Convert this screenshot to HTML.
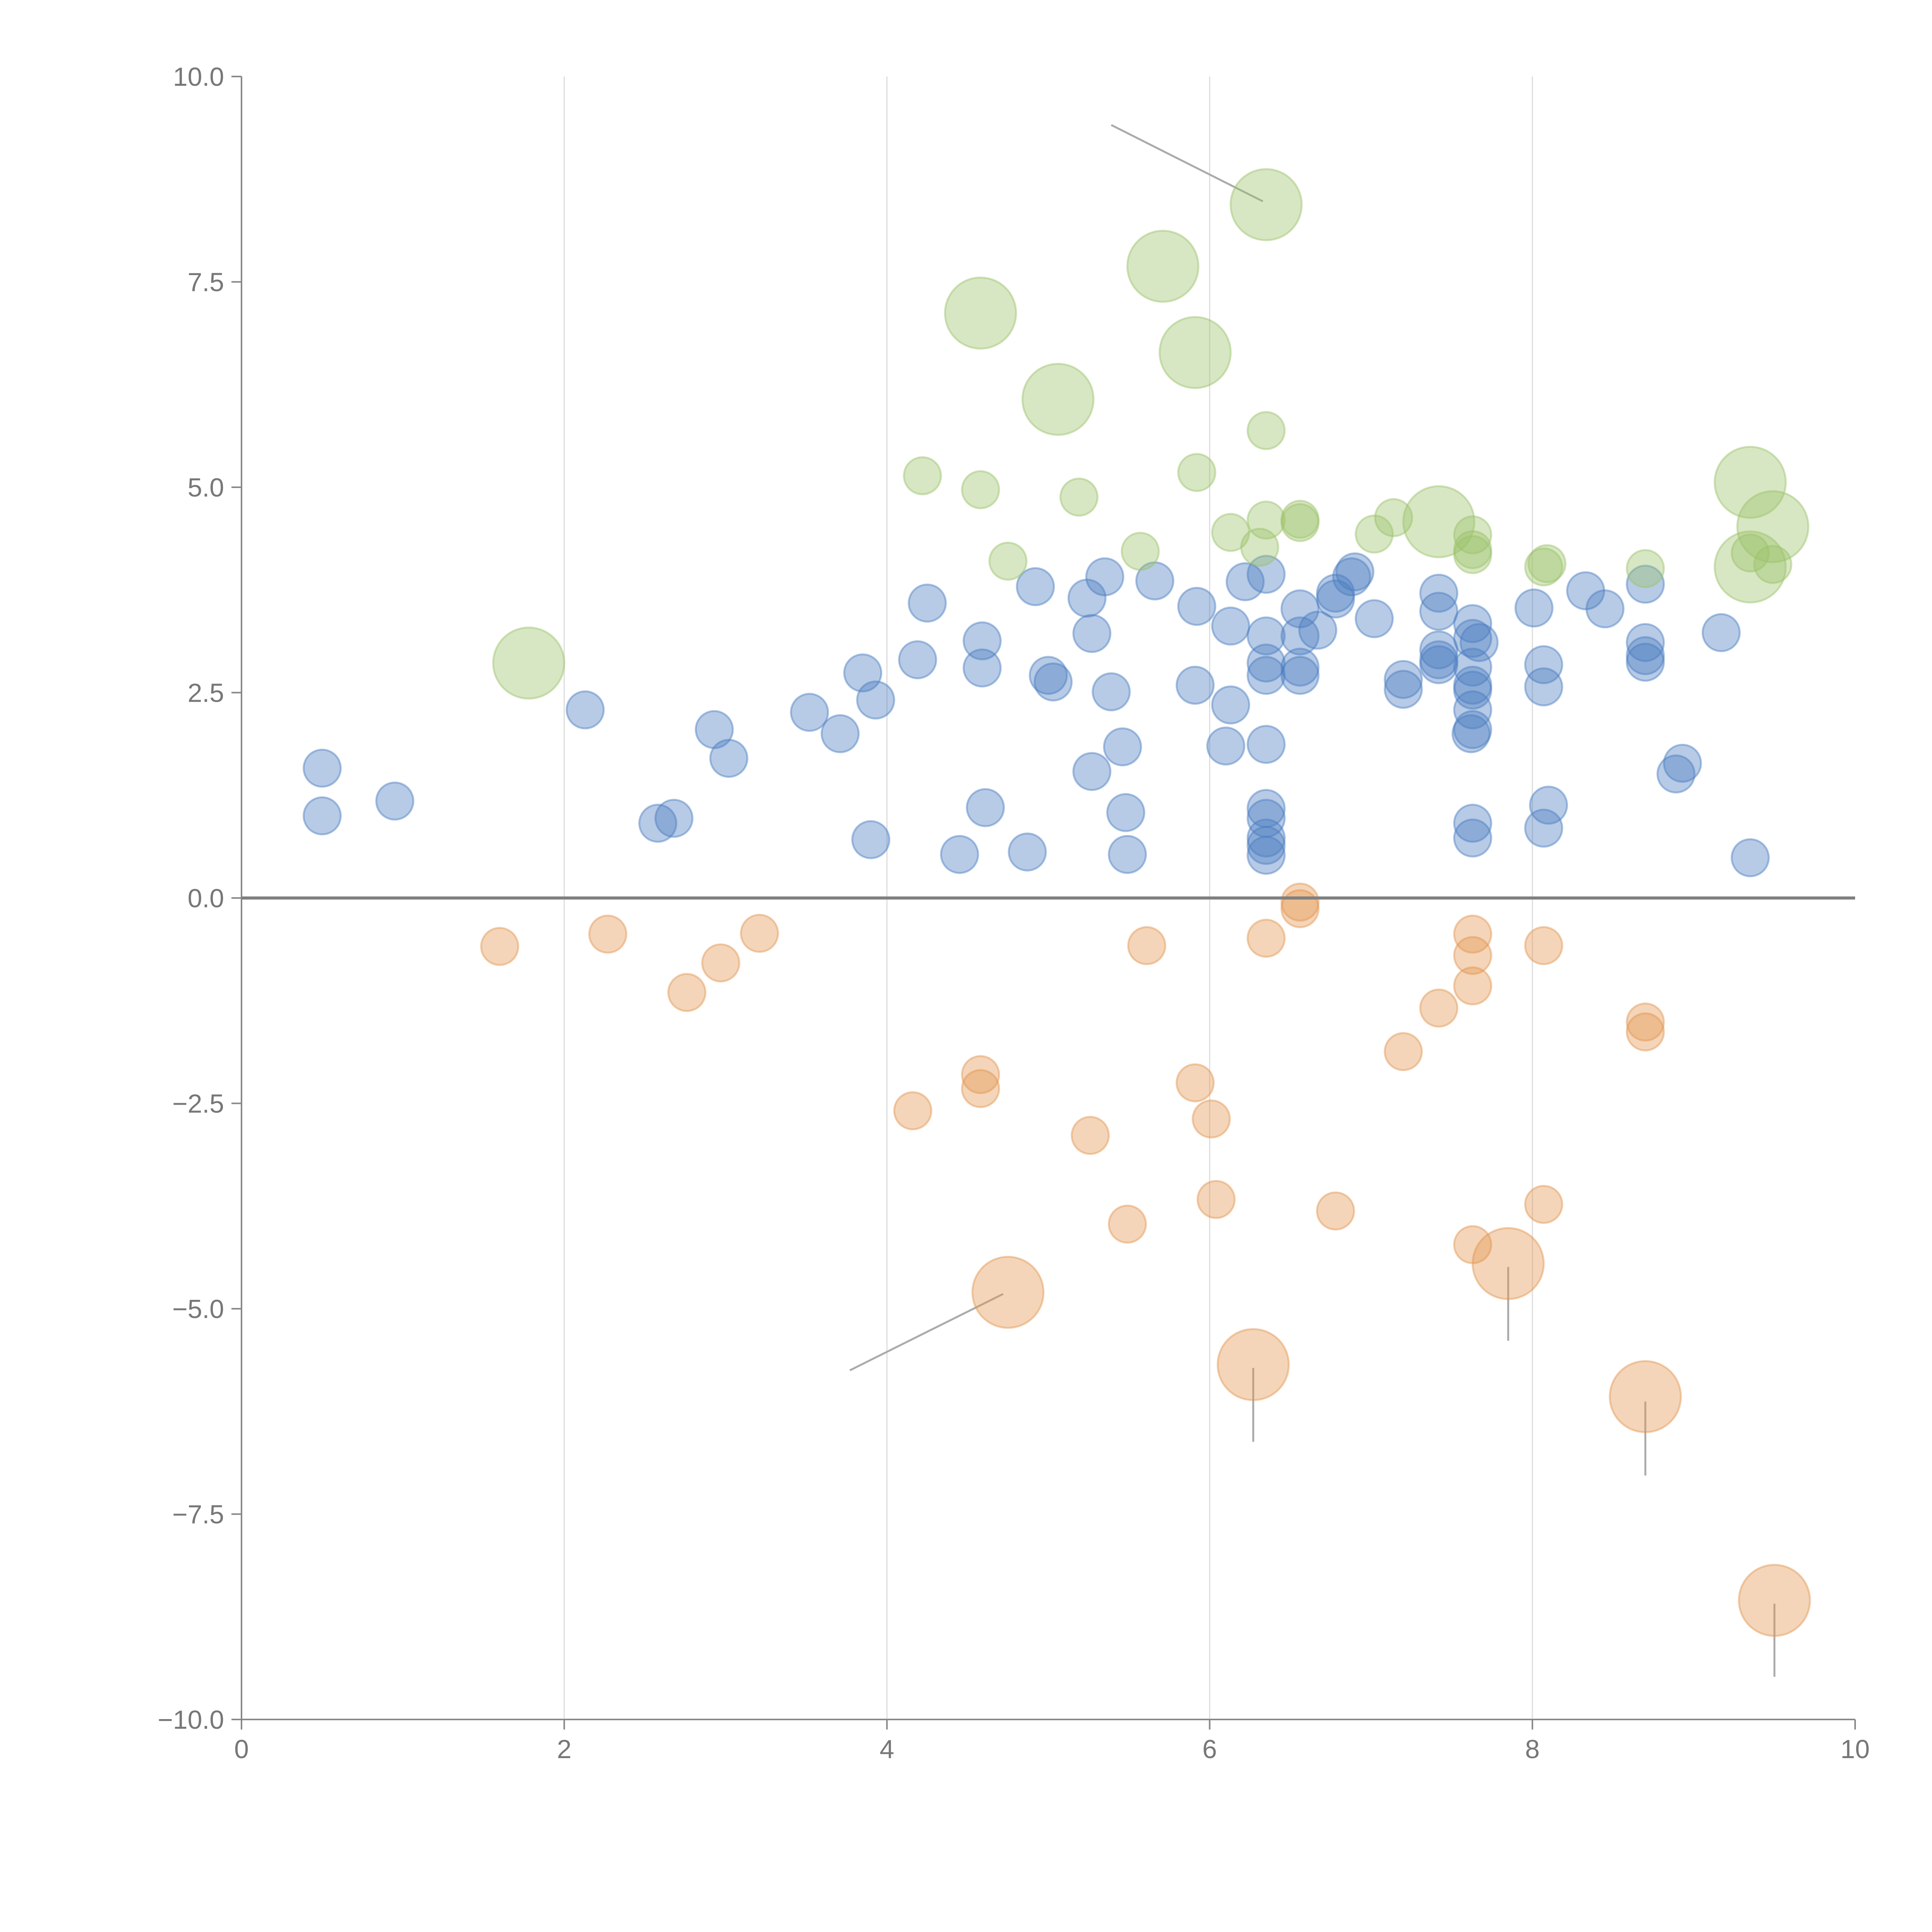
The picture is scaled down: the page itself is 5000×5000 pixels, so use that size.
<!DOCTYPE html>
<html><head><meta charset="utf-8"><style>
html,body{margin:0;padding:0;background:#fff;}
svg{display:block;}
text{font-family:"Liberation Sans",sans-serif;fill:#777;}
</style></head><body>
<svg id="chart" width="5000" height="5000" viewBox="0 0 5000 5000" xmlns="http://www.w3.org/2000/svg">
<g id="grid"></g>
<g id="annot"></g>
<g id="marks"></g>
<g id="axes"></g>
</svg>
<script>
const xTicks=[0,2,4,6,8,10];
const xTickLabels=["0","2","4","6","8","10"];
const yTicks=[10,7.5,5,2.5,0,-2.5,-5,-7.5,-10];
const yTickLabels=["10.0","7.5","5.0","2.5","0.0","\u22122.5","\u22125.0","\u22127.5","\u221210.0"];
const blueX=[0.50,0.50,0.95,2.13,2.58,2.68,2.93,3.02,3.52,3.71,3.85,3.93,3.90,4.19,4.25,4.45,4.59,4.59,4.61,4.87,4.92,5.00,5.03,5.24,5.27,5.27,5.35,5.39,5.46,5.48,5.49,5.66,5.92,5.91,6.13,6.13,6.10,6.22,6.35,6.35,6.35,6.35,6.35,6.35,6.35,6.35,6.35,6.35,6.56,6.56,6.56,6.56,6.67,6.78,6.78,6.88,6.90,7.02,7.20,7.20,7.42,7.42,7.42,7.42,7.42,7.63,7.63,7.67,7.63,7.63,7.63,7.63,7.62,7.63,7.63,7.63,8.01,8.07,8.07,8.10,8.07,8.33,8.45,8.70,8.70,8.70,8.70,8.93,8.89,9.17,9.35];
const blueY=[1.58,1.0,1.18,2.29,0.91,0.97,2.05,1.70,2.26,2.0,2.74,2.41,0.71,2.90,3.59,0.53,3.13,2.80,1.10,0.56,3.79,2.71,2.63,3.65,3.22,1.54,3.91,2.51,1.84,1.04,0.53,3.86,3.55,2.59,3.31,2.35,1.85,3.85,3.94,3.19,2.86,2.71,1.87,1.09,0.97,0.73,0.64,0.52,3.52,3.19,2.81,2.71,3.26,3.71,3.64,3.91,3.97,3.40,2.66,2.54,3.71,3.49,3.02,2.90,2.84,3.34,3.16,3.11,2.81,2.59,2.53,2.29,2.0,2.05,0.91,0.73,3.53,2.84,2.57,1.13,0.85,3.74,3.52,3.82,3.11,2.95,2.87,1.64,1.51,3.23,0.49];
const greenX=[1.78,4.22,4.58,4.75,5.06,4.58,5.71,5.91,6.35,5.19,5.57,5.92,6.13,6.35,6.35,6.31,6.56,6.56,7.02,7.14,7.42,7.63,7.63,7.63,8.07,8.09,8.70,9.35,9.49,9.35,9.35,9.49];
const greenY=[2.86,5.14,4.97,4.10,6.07,7.12,7.69,6.64,8.44,4.88,4.22,5.18,4.45,5.69,4.60,4.27,4.61,4.57,4.43,4.63,4.58,4.42,4.24,4.18,4.03,4.07,4.01,5.06,4.52,4.03,4.20,4.06];
const greenBig=[1,0,0,0,1,1,1,1,1,0,0,0,0,0,0,0,0,0,0,0,1,0,0,0,0,0,0,1,1,1,0,0];
const orangeX=[1.60,2.27,2.76,2.97,3.21,4.16,4.58,4.58,4.75,5.26,5.49,5.61,5.91,6.01,6.04,6.27,6.35,6.56,6.56,6.78,7.20,7.42,7.63,7.63,7.63,7.63,7.85,8.07,8.07,8.70,8.70,8.70,9.50];
const orangeY=[-0.59,-0.44,-1.15,-0.79,-0.43,-2.59,-2.15,-2.32,-4.80,-2.89,-3.97,-0.58,-2.25,-2.69,-3.67,-5.68,-0.49,-0.05,-0.13,-3.81,-1.87,-1.34,-0.44,-0.70,-1.07,-4.22,-4.45,-0.58,-3.73,-1.51,-1.63,-6.07,-8.55];
const orangeBig=[0,0,0,0,0,0,0,0,1,0,0,0,0,0,0,1,0,0,0,0,0,0,0,0,0,0,1,0,0,0,0,1,1];
const annX1=[5.39,3.77,6.27,7.85,8.70,9.50];
const annY1=[9.41,-5.75,-5.72,-4.49,-6.13,-8.59];
const annX2=[6.33,4.72,6.27,7.85,8.70,9.50];
const annY2=[8.48,-4.82,-6.62,-5.39,-7.03,-9.48];

const NS="http://www.w3.org/2000/svg";
const X0=625,X1=4801,YT=198,YB=4450;
const sx=v=>X0+(v-0)/10*(X1-X0);
const sy=v=>YB-(v+10)/20*(YB-YT);
function mk(tag,attrs,parent){const e=document.createElementNS(NS,tag);for(const k in attrs)e.setAttribute(k,attrs[k]);parent.appendChild(e);return e;}
const grid=document.getElementById('grid'),annot=document.getElementById('annot'),marks=document.getElementById('marks'),axes=document.getElementById('axes');

[2,4,6,8].forEach(v=>{const l=mk('line',{x1:sx(v),x2:sx(v),y1:YT,y2:YB,stroke:'#dddddd','stroke-width':3},grid);

});

function series(xs,ys,big,fill,name){
  xs.forEach((x,i)=>{const r=(big&&big[i])?92:48;
    const c=mk('circle',{cx:sx(x),cy:sy(ys[i]),r:r,fill:fill,'fill-opacity':0.4,stroke:fill,'stroke-opacity':0.45,'stroke-width':5},marks);
    
    });
}
series(blueX,blueY,null,'#4a7cc0','blue-point');
series(greenX,greenY,greenBig,'#9cc26a','green-point');
series(orangeX,orangeY,orangeBig,'#e39550','orange-point');

annX1.forEach((x,i)=>{const l=mk('line',{x1:sx(x),y1:sy(annY1[i]),x2:sx(annX2[i]),y2:sy(annY2[i]),stroke:'#aaaaaa','stroke-width':5},annot);

});

const xa=mk('line',{x1:X0,x2:X1,y1:YB,y2:YB,stroke:'#888','stroke-width':4},axes);


const ya=mk('line',{x1:X0,x2:X0,y1:YT,y2:YB,stroke:'#888','stroke-width':4},axes);


const zl=mk('line',{x1:X0,x2:X1,y1:sy(0),y2:sy(0),stroke:'#808080','stroke-width':8},axes);


xTicks.forEach((v,i)=>{
  const t=mk('line',{x1:sx(v),x2:sx(v),y1:YB,y2:YB+26,stroke:'#888','stroke-width':4},axes);
  
  
  const tx=mk('text',{x:sx(v),y:YB+100,'text-anchor':'middle','font-size':68},axes);
  tx.textContent=xTickLabels[i];
  
  
});
yTicks.forEach((v,i)=>{
  const t=mk('line',{x1:X0-26,x2:X0,y1:sy(v),y2:sy(v),stroke:'#888','stroke-width':4},axes);
  
  
  const tx=mk('text',{x:X0-45,y:sy(v)+24,'text-anchor':'end','font-size':68},axes);
  tx.textContent=yTickLabels[i];
  
  
});
</script>
</body></html>
